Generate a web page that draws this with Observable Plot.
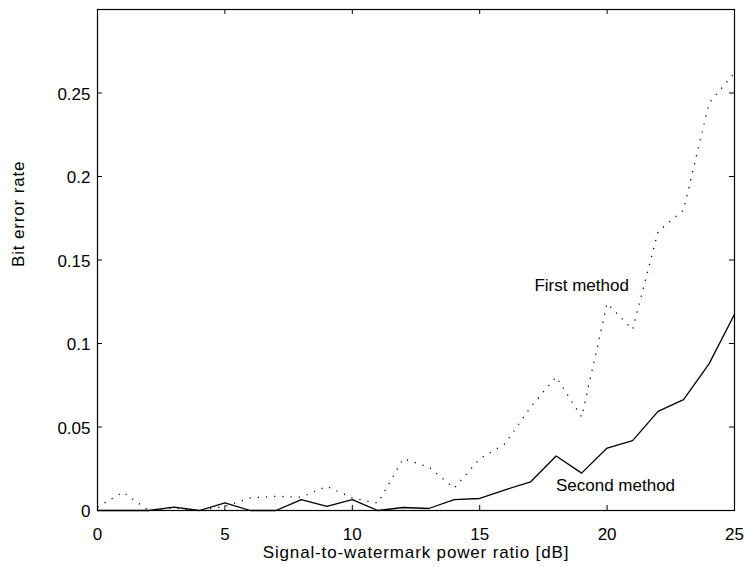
<!DOCTYPE html>
<html>
<head>
<meta charset="utf-8">
<script src="https://cdn.jsdelivr.net/npm/d3@7"></script>
<script src="https://cdn.jsdelivr.net/npm/@observablehq/plot@0.6"></script>
<style>
  html, body { margin: 0; padding: 0; background: #fff; }
  #chart svg { display: block; }
</style>
</head>
<body>
<div id="chart"></div>
<script>
// Data
const snr = [0,1,2,3,4,5,6,7,8,9,10,11,12,13,14,15,16,17,18,19,20,21,22,23,24,25];
const firstMethod = [0.002,0.011,0,0.0015,0,0.0025,0.0075,0.0085,0.008,0.0145,0.0075,0.0044,0.031,0.026,0.0134,0.031,0.040,0.062,0.080,0.056,0.124,0.1084,0.167,0.180,0.244,0.262];
const secondMethod = [0,0,0,0.002,0,0.0045,0,0,0.0065,0.0025,0.0065,0,0.0018,0.0012,0.0065,0.0072,0.0124,0.0172,0.0326,0.0224,0.0374,0.0418,0.0594,0.0664,0.0878,0.1175];
const xTicks = [0,5,10,15,20,25];
const yTicks = [0,0.05,0.1,0.15,0.2,0.25];
const seriesLabels = ["First method","Second method"];
const seriesLabelX = [19,20.33];
const seriesLabelY = [0.1345,0.0149];
const xTitle = "Signal-to-watermark power ratio [dB]";
const yTitle = "Bit error rate";

const first = snr.map((x,i) => ({x, y: firstMethod[i]}));
const second = snr.map((x,i) => ({x, y: secondMethod[i]}));
const annotations = seriesLabels.map((t,i) => ({t, x: seriesLabelX[i], y: seriesLabelY[i]}));

const W = 745, H = 567, ML = 97, MR = 11, MT = 9, MB = 57;
const innerW = W - ML - MR, innerH = H - MT - MB, tick = 5;

const chart = Plot.plot({
  width: W, height: H,
  marginLeft: ML, marginRight: MR, marginTop: MT, marginBottom: MB,
  style: {fontFamily: "'Liberation Sans', Arial, Helvetica, sans-serif", fontSize: "17px", color: "#000", background: "#fff"},
  x: {domain: [0,25], axis: null},
  y: {domain: [0,0.3], axis: null},
  marks: [
    Plot.line(first, {x: "x", y: "y", stroke: "#000", strokeWidth: 1.3, strokeLinecap: "butt", strokeDasharray: "1.2,7"}),
    Plot.line(second, {x: "x", y: "y", stroke: "#000", strokeWidth: 1.3}),
    Plot.frame({stroke: "#000", strokeWidth: 1.2}),
    // inward ticks on all four sides
    Plot.tickX(xTicks, {x: d => d, stroke: "#000", insetTop: innerH - tick}),
    Plot.tickX(xTicks, {x: d => d, stroke: "#000", insetBottom: innerH - tick}),
    Plot.tickY(yTicks, {y: d => d, stroke: "#000", insetRight: innerW - tick}),
    Plot.tickY(yTicks, {y: d => d, stroke: "#000", insetLeft: innerW - tick}),
    // tick labels
    Plot.text(xTicks, {x: d => d, text: d => String(d), frameAnchor: "bottom", lineAnchor: "top", dy: 17, fontSize: 17, fill: "#000"}),
    Plot.text(yTicks, {y: d => d, text: d => String(d), frameAnchor: "left", textAnchor: "end", dx: -7, dy: 1.5, fontSize: 17, fill: "#000"}),
    // axis titles
    Plot.text([xTitle], {text: d => d, frameAnchor: "bottom", dy: 47.5, fontSize: 17, fill: "#000"}),
    Plot.text([yTitle], {text: d => d, frameAnchor: "left", dx: -78.8, dy: 7, rotate: -90, fontSize: 17, fill: "#000"}),
    Plot.text(annotations, {x: "x", y: "y", text: "t", fontSize: 17, fill: "#000"})
  ]
});
document.getElementById("chart").appendChild(chart);
// letter-spacing on the two axis titles to match the reference's wider set
chart.querySelectorAll("text").forEach(t => {
  if (t.textContent === xTitle || t.textContent === yTitle) t.setAttribute("letter-spacing", "0.85");
});
</script>
</body>
</html>
